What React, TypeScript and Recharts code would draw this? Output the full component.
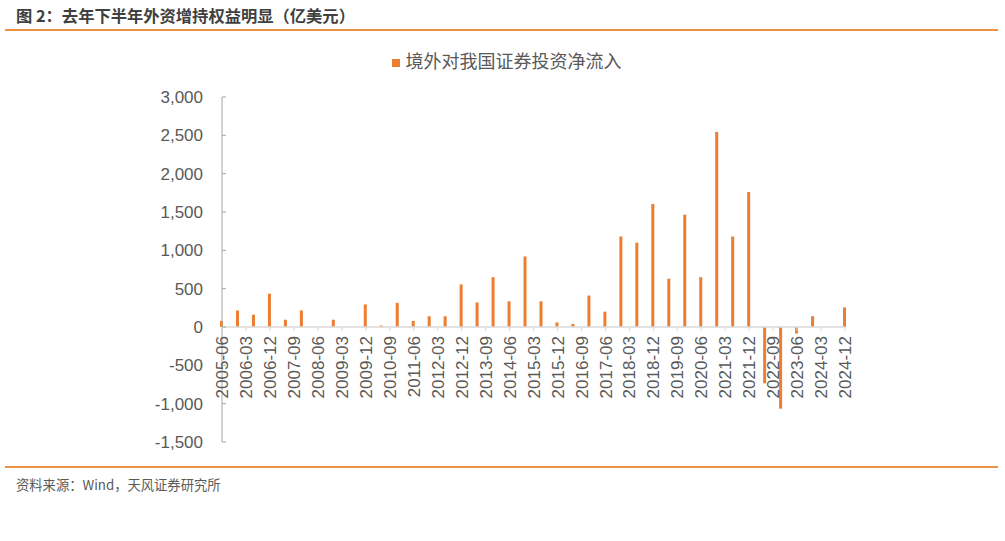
import React from "react";
import { Bar, BarChart, Legend, ReferenceLine, XAxis, YAxis } from "recharts";

// semi-annual observations (亿美元)
const periods = [
  "2005-06", "2005-12", "2006-06", "2006-12", "2007-06", "2007-12", "2008-06", "2008-12",
  "2009-06", "2009-12", "2010-06", "2010-12", "2011-06", "2011-12", "2012-06", "2012-12",
  "2013-06", "2013-12", "2014-06", "2014-12", "2015-06", "2015-12", "2016-06", "2016-12",
  "2017-06", "2017-12", "2018-06", "2018-12", "2019-06", "2019-12", "2020-06", "2020-12",
  "2021-06", "2021-12", "2022-06", "2022-12", "2023-06", "2023-12", "2024-06", "2024-12",
];

const inflows = [
  80, 215, 160, 435, 95, 215, 0, 95,
  0, 295, 18, 315, 80, 140, 140, 555,
  320, 650, 335, 920, 335, 60, 40, 410,
  200, 1180, 1100, 1605, 630, 1465, 650, 2545,
  1180, 1760, -735, -1065, -85, 140, 0, 255,
];

// quarterly axis, labelled every third quarter
const tickLabels = [
  "2005-06", "2006-03", "2006-12", "2007-09", "2008-06", "2009-03", "2009-12", "2010-09",
  "2011-06", "2012-03", "2012-12", "2013-09", "2014-06", "2015-03", "2015-12", "2016-09",
  "2017-06", "2018-03", "2018-12", "2019-09", "2020-06", "2021-03", "2021-12", "2022-09",
  "2023-06", "2024-03", "2024-12",
];

const yTicks = [-1500, -1000, -500, 0, 500, 1000, 1500, 2000, 2500, 3000];

const SERIES = "境外对我国证券投资净流入";
const ORANGE = "#ED7D31";
const CJK = '"Noto Sans CJK SC", "Noto Sans", sans-serif';
const NUM = '"Liberation Sans", Arial, sans-serif';

// quarter number counted from 2005-06
const quarterIndex = (p: string) => {
  const [y, m] = p.split("-").map(Number);
  return (y - 2005) * 4 + m / 3 - 2;
};

const data = periods.map((p, i) => ({ q: quarterIndex(p), period: p, value: inflows[i] }));
const xTicks = tickLabels.map(quarterIndex);
const labelByIndex: Record<number, string> = {};
tickLabels.forEach((t) => (labelByIndex[quarterIndex(t)] = t));

const W = 1005;
const H = 470;
const X_AXIS_H = 1;
const M = { top: 97, right: 160, bottom: 28 - X_AXIS_H, left: 162 };
const Y_MIN = -1500;
const Y_MAX = 3000;
const PLOT_H = H - M.top - M.bottom - X_AXIS_H;
// distance from the bottom of the plot up to the zero line, where the category axis sits
const ZERO_LIFT = (PLOT_H * (0 - Y_MIN)) / (Y_MAX - Y_MIN);

function QuarterTick(props: any) {
  const { x, y, payload } = props;
  return (
    <g transform={`translate(${x},${y - ZERO_LIFT})`}>
      <line x1={0} y1={0} x2={0} y2={4} stroke="#D9D9D9" />
      <text
        transform="rotate(-90)"
        x={-9}
        y={0}
        dy="0.36em"
        textAnchor="end"
        fill="#595959"
        fontSize={17}
        fontFamily={NUM}
      >
        {labelByIndex[payload.value]}
      </text>
    </g>
  );
}

export default function App() {
  return (
    <div
      style={{
        position: "absolute",
        left: 0,
        top: 0,
        width: W,
        height: 541,
        background: "#fff",
        overflow: "hidden",
        fontFamily: CJK,
      }}
    >
      <div
        style={{
          position: "absolute",
          left: 16,
          top: 4,
          fontSize: 16.3,
          fontWeight: 700,
          color: "#404040",
          lineHeight: "22px",
          whiteSpace: "pre",
        }}
      >
        图 2：去年下半年外资增持权益明显（亿美元）
      </div>
      <div style={{ position: "absolute", left: 5, top: 28.5, width: 993, height: 2, background: "#EF9142" }} />

      <div style={{ position: "absolute", left: 0, top: 0 }}>
        <BarChart width={W} height={H} data={data} margin={M}>
          <XAxis
            dataKey="q"
            type="number"
            domain={[0, 78]}
            ticks={xTicks}
            interval={0}
            axisLine={false}
            tickLine={false}
            tickSize={0}
            tickMargin={0}
            height={X_AXIS_H}
            tick={<QuarterTick />}
          />
          <YAxis
            domain={[Y_MIN, Y_MAX]}
            ticks={yTicks}
            interval={0}
            width={60}
            axisLine={{ stroke: "#A6A6A6" }}
            tickLine={{ stroke: "#A6A6A6" }}
            tickSize={-4}
            tickMargin={23}
            tick={{ fill: "#595959", fontSize: 17, fontFamily: NUM }}
            tickFormatter={(v: number) => v.toLocaleString("en-US")}
          />
          <ReferenceLine y={0} stroke="#D9D9D9" strokeWidth={1.5} />
          <Legend
            layout="horizontal"
            verticalAlign="middle"
            align="center"
            iconType="square"
            iconSize={8}
            wrapperStyle={{ top: 47, left: 9, width: W, fontSize: 18, fontFamily: CJK }}
            formatter={(v: string) => <span style={{ color: "#595959", marginLeft: 2 }}>{v}</span>}
          />
          <Bar dataKey="value" name={SERIES} fill={ORANGE} barSize={3} isAnimationActive={false} />
        </BarChart>
      </div>

      <div style={{ position: "absolute", left: 5, top: 465.5, width: 993, height: 2, background: "#EF9142" }} />
      <div
        style={{
          position: "absolute",
          left: 16,
          top: 476,
          fontSize: 13.3,
          color: "#595959",
          lineHeight: "18px",
          whiteSpace: "nowrap",
        }}
      >
        资料来源：Wind，天风证券研究所
      </div>
    </div>
  );
}
